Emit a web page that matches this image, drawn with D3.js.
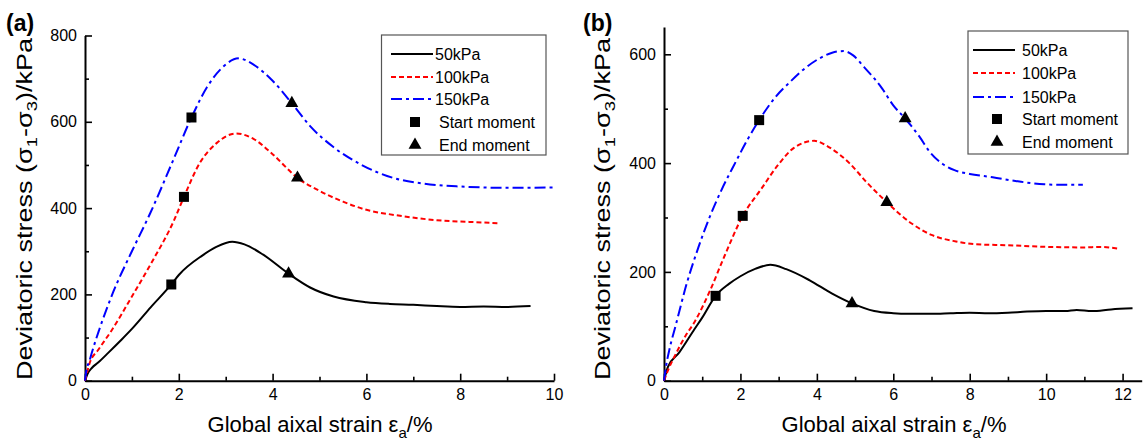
<!DOCTYPE html>
<html><head><meta charset="utf-8">
<script src="https://cdn.jsdelivr.net/npm/d3@7"></script>
<style>body{margin:0;background:#fff} text{font-family:Arial,"Liberation Sans",sans-serif;fill:#000}</style>
</head><body><svg id="c" width="1145" height="442"></svg>
<script>
// ---------- data ----------
const seriesNames = ["50kPa", "100kPa", "150kPa"];
const markerNames = ["Start moment", "End moment"];
const panelLabels = ["(a)", "(b)"];

const xMajorA = [0, 2, 4, 6, 8, 10];
const xMinorA = [1, 3, 5, 7, 9];
const yMajorA = [0, 200, 400, 600, 800];
const yMinorA = [100, 300, 500, 700];
const xMajorB = [0, 2, 4, 6, 8, 10, 12];
const xMinorB = [1, 3, 5, 7, 9, 11];
const yMajorB = [0, 200, 400, 600];
const yMinorB = [100, 300, 500];

const a50 = [[0,0],[0.05,15],[0.15,30],[0.28,42],[0.5,65],[0.75,92],[1.0,120],[1.4,170],[1.84,223],[2.0,245],[2.5,290],[2.8,310],[3.14,322],[3.4,316],[3.8,292],[4.34,248],[4.8,216],[5.3,195],[6.0,182],[6.5,178],[7.0,176],[7.5,173],[8.0,171],[8.5,172],[9.0,171],[9.5,173]];
const a100 = [[0,0],[0.04,17],[0.1,41],[0.28,71],[0.57,117],[1.0,195],[1.4,270],[1.9,372],[2.11,426],[2.45,505],[2.8,550],[3.22,573],[3.6,560],[4.0,525],[4.53,470],[5.0,440],[5.5,415],[6.0,396],[6.6,384],[7.5,372],[8.2,368],[8.81,365]];
const a150 = [[0,0],[0.035,27],[0.09,44],[0.14,63],[0.3,117],[0.6,205],[1.0,300],[1.39,388],[1.88,511],[2.27,610],[2.6,680],[2.95,728],[3.27,747],[3.6,732],[4.0,695],[4.41,643],[4.8,590],[5.29,542],[5.9,500],[6.57,470],[7.2,457],[8.0,450],[9.0,447],[9.98,448]];
const aStart = [[1.84,223],[2.11,426],[2.27,610]];
const aEnd = [[4.34,248],[4.53,470],[4.41,643]];

const b50 = [[0,0],[0.1,25],[0.4,52],[0.8,95],[1.0,116],[1.35,156],[1.7,178],[2.0,192],[2.4,206],[2.78,213],[3.2,205],[3.8,185],[4.4,160],[4.92,142],[5.5,128],[6.0,124],[6.4,123],[7.0,123],[7.5,124],[8.0,125],[8.5,124],[9.0,125],[9.5,127],[10.0,128],[10.5,128],[10.8,130],[11.2,128],[11.7,131],[12.26,133]];
const b100 = [[0,0],[0.11,20],[0.3,48],[0.55,81],[0.8,108],[1.2,165],[1.6,232],[2.06,303],[2.54,352],[3.0,398],[3.4,428],[3.93,441],[4.3,430],[4.85,400],[5.3,365],[5.83,328],[6.48,289],[7.0,268],[7.64,256],[8.12,251],[9.0,249],[10.0,246],[11.0,245],[11.4,246],[11.87,243]];
const b150 = [[0,0],[0.05,25],[0.15,60],[0.3,100],[0.6,180],[0.9,245],[1.19,300],[1.5,350],[1.86,400],[2.2,445],[2.49,479],[2.9,520],[3.31,550],[3.7,575],[4.08,593],[4.4,603],[4.7,606],[4.95,598],[5.23,577],[5.71,537],[6.0,506],[6.31,482],[6.68,449],[6.96,420],[7.3,398],[7.6,387],[8.0,380],[8.6,374],[9.3,366],[9.95,361],[10.5,360],[10.96,360]];
const bStart = [[1.35,156],[2.06,303],[2.49,479]];
const bEnd = [[4.92,142],[5.83,328],[6.31,482]];

// ---------- styles ----------
const colors = ["#000000", "#ff0000", "#0000ff"];
const dashes = [null, "5,3", "11,4,3,4"];

const svg = d3.select("#c");

const panels = [
  {label: panelLabels[0], labelX: 6, series: [a50, a100, a150], start: aStart, end: aEnd,
   xDom: [0, 10], xRange: [85, 554], yDom: [0, 800], yRange: [380.7, 35.5],
   xMaj: xMajorA, xMin: xMinorA, yMaj: yMajorA, yMin: yMinorA,
   yTitleX: 32, xTitleX: 320,
   leg: {x0: 381.5, y0: 35, w: 164.5, h: 120, rows: [54, 77, 99, 122, 145], l0: 391, l1: 433, tx: 435, mtx: 439, mx: 415}},
  {label: panelLabels[1], labelX: 583, series: [b50, b100, b150], start: bStart, end: bEnd,
   xDom: [0, 12.5], xRange: [664, 1141.7], yDom: [0, 650], yRange: [380.7, 27.1],
   xMaj: xMajorB, xMin: xMinorB, yMaj: yMajorB, yMin: yMinorB,
   yTitleX: 610, xTitleX: 894,
   leg: {x0: 968, y0: 31, w: 160, h: 123, rows: [50, 73, 97, 119, 142], l0: 973, l1: 1015, tx: 1022, mtx: 1022, mx: 997}}
];

const sq = d3.symbol().type(d3.symbolSquare).size(100);
const tri = d3.symbol().type(d3.symbolTriangle).size(72);

panels.forEach(p => {
  const x = d3.scaleLinear().domain(p.xDom).range(p.xRange);
  const y = d3.scaleLinear().domain(p.yDom).range(p.yRange);
  const g = svg.append("g");
  const y0 = p.yRange[0], x0 = p.xRange[0];

  // axes
  g.append("g").attr("transform", `translate(0,${y0})`)
    .call(d3.axisBottom(x).tickValues(p.xMaj).tickSize(-7).tickSizeOuter(0).tickPadding(8).tickFormat(d3.format("d")));
  g.append("g").attr("transform", `translate(0,${y0})`)
    .call(d3.axisBottom(x).tickValues(p.xMin).tickSize(-4).tickFormat("")).select(".domain").remove();
  g.append("g").attr("transform", `translate(${x0},0)`)
    .call(d3.axisLeft(y).tickValues(p.yMaj).tickSize(-7).tickSizeOuter(0).tickPadding(8).tickFormat(d3.format("d")));
  g.append("g").attr("transform", `translate(${x0},0)`)
    .call(d3.axisLeft(y).tickValues(p.yMin).tickSize(-4).tickFormat("")).select(".domain").remove();
  g.selectAll(".domain").attr("stroke", "#000").attr("stroke-width", 2);
  g.selectAll(".tick line").attr("stroke", "#000").attr("stroke-width", 1.6);
  g.selectAll(".tick text").attr("font-size", 16).attr("font-family", "Arial, 'Liberation Sans', sans-serif").attr("fill", "#000");

  // lines
  const line = d3.line().x(d => x(d[0])).y(d => y(d[1])).curve(d3.curveMonotoneX);
  p.series.forEach((s, i) => {
    g.append("path").datum(s).attr("d", line).attr("fill", "none")
      .attr("stroke", colors[i]).attr("stroke-width", 2)
      .attr("stroke-dasharray", dashes[i]);
  });
  // markers
  g.selectAll(".st").data(p.start).join("path").attr("d", sq)
    .attr("transform", d => `translate(${x(d[0])},${y(d[1])})`).attr("fill", "#000");
  g.selectAll(".en").data(p.end).join("path").attr("d", tri)
    .attr("transform", d => `translate(${x(d[0])},${y(d[1])})`).attr("fill", "#000");

  // panel label
  svg.append("text").attr("x", p.labelX).attr("y", 31).attr("font-size", 23).attr("font-weight", "bold").text(p.label);

  // y title
  const yt = svg.append("text").attr("transform", `translate(${p.yTitleX},209) rotate(-90)`)
    .attr("text-anchor", "middle").attr("font-size", 22)
    .attr("textLength", 342).attr("lengthAdjust", "spacingAndGlyphs");
  yt.append("tspan").text("Deviatoric stress (σ");
  yt.append("tspan").attr("dy", 5).attr("font-size", 15).text("1");
  yt.append("tspan").attr("dy", -5).text("-σ");
  yt.append("tspan").attr("dy", 5).attr("font-size", 15).text("3");
  yt.append("tspan").attr("dy", -5).text(")/kPa");

  // x title
  const xt = svg.append("text").attr("x", p.xTitleX).attr("y", 432).attr("text-anchor", "middle").attr("font-size", 22)
    .attr("textLength", 225).attr("lengthAdjust", "spacingAndGlyphs");
  xt.append("tspan").text("Global aixal strain ε");
  xt.append("tspan").attr("dy", 6).attr("font-size", 15).text("a");
  xt.append("tspan").attr("dy", -6).text("/%");

  // legend
  const L = p.leg;
  svg.append("rect").attr("x", L.x0).attr("y", L.y0).attr("width", L.w).attr("height", L.h)
    .attr("fill", "#fff").attr("stroke", "#555").attr("stroke-width", 1.2);
  seriesNames.forEach((n, i) => {
    svg.append("line").attr("x1", L.l0).attr("x2", L.l1).attr("y1", L.rows[i]).attr("y2", L.rows[i])
      .attr("stroke", colors[i]).attr("stroke-width", 2).attr("stroke-dasharray", dashes[i]);
    svg.append("text").attr("x", L.tx).attr("y", L.rows[i]).attr("dy", "0.35em").attr("font-size", 16).text(n);
  });
  markerNames.forEach((n, i) => {
    const r = L.rows[3 + i];
    svg.append("path").attr("d", i === 0 ? sq : tri).attr("transform", `translate(${L.mx},${r})`).attr("fill", "#000");
    svg.append("text").attr("x", L.mtx).attr("y", r).attr("dy", "0.35em").attr("font-size", 16).text(n);
  });
});
</script></body></html>
